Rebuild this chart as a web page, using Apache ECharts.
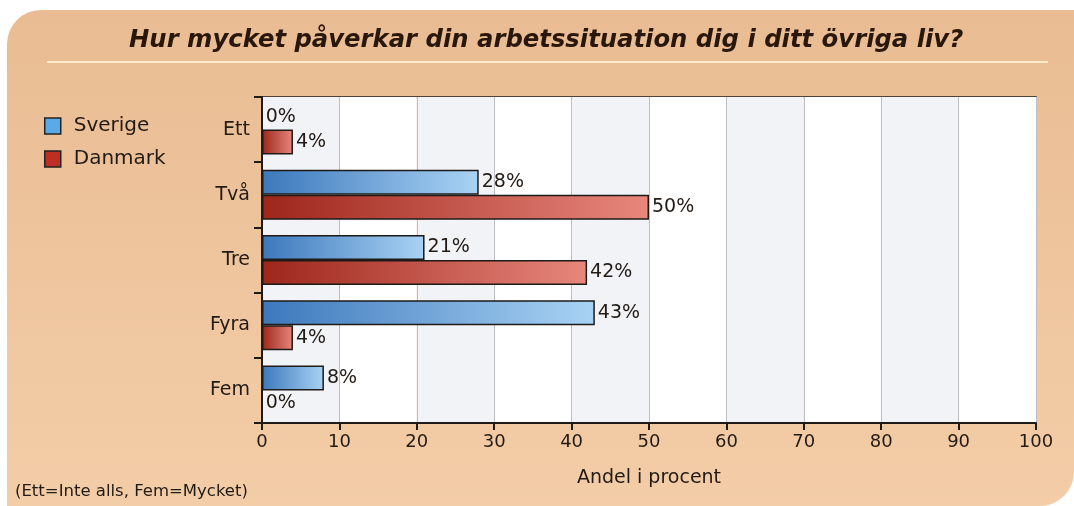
<!DOCTYPE html>
<html>
<head>
<meta charset="utf-8">
<script src="https://cdn.jsdelivr.net/npm/echarts@6/dist/echarts.min.js"></script>
<style>
html, body { margin: 0; padding: 0; background: #fff; }
#chart { width: 1074px; height: 506px; }
</style>
</head>
<body>
<div id="chart"></div>
<script>
var categories = ['Ett', 'Två', 'Tre', 'Fyra', 'Fem']
var sverige = [0, 28, 21, 43, 8]
var danmark = [4, 50, 42, 4, 0]
var xTicks = { min: 0, max: 100, step: 10 }

var font = '"DejaVu Sans", Verdana, sans-serif'
var ink = '#221a14'

function grad(a, b) {
    return new echarts.graphic.LinearGradient(0, 0, 1, 0, [
        { offset: 0, color: a },
        { offset: 1, color: b }
    ])
}

var labelStyle = {
    show: true,
    position: 'right',
    distance: 3,
    formatter: '{c}%',
    fontFamily: font,
    fontSize: 19,
    color: ink
}

var option = {
    animation: false,
    textStyle: { fontFamily: font },
    graphic: [
        {
            type: 'rect',
            z: -10,
            shape: { x: 7, y: 10, width: 1067, height: 496, r: [34, 0, 34, 0] },
            style: {
                fill: new echarts.graphic.LinearGradient(0, 0, 0, 1, [
                    { offset: 0, color: '#E9BC93' },
                    { offset: 1, color: '#F3CDA7' }
                ])
            }
        },
        {
            type: 'line',
            z: -5,
            shape: { x1: 47, y1: 62, x2: 1048, y2: 62 },
            style: { stroke: '#FBEACB', lineWidth: 2 }
        },
        {
            type: 'text',
            left: 15,
            top: 483,
            style: {
                text: '(Ett=Inte alls, Fem=Mycket)',
                font: '16.5px ' + font,
                fill: ink
            }
        }
    ],
    title: {
        text: 'Hur mycket påverkar din arbetssituation dig i ditt övriga liv?',
        left: 124,
        top: 24,
        textStyle: {
            fontFamily: font,
            fontSize: 24.3,
            fontStyle: 'italic',
            fontWeight: 'bold',
            color: '#2a170c'
        }
    },
    legend: {
        orient: 'vertical',
        left: 39,
        top: 111,
        itemWidth: 16,
        itemHeight: 16,
        itemGap: 13,
        icon: 'rect',
        textStyle: { fontFamily: font, fontSize: 20, color: ink, padding: [0, 0, 0, 8] },
        data: [
            { name: 'Sverige', itemStyle: { color: '#5BAAE8', borderColor: '#222', borderWidth: 1.5 } },
            { name: 'Danmark', itemStyle: { color: '#BF2E24', borderColor: '#222', borderWidth: 1.5 } }
        ]
    },
    grid: {
        left: 262,
        right: 38,
        top: 97,
        bottom: 83,
        show: true,
        borderColor: '#1e1a18',
        borderWidth: 1.5
    },
    xAxis: {
        type: 'value',
        min: xTicks.min,
        max: xTicks.max,
        interval: xTicks.step,
        name: 'Andel i procent',
        nameLocation: 'middle',
        nameGap: 46,
        nameTextStyle: { fontFamily: font, fontSize: 19, color: ink },
        axisLine: { show: true, lineStyle: { color: '#1e1a18', width: 2 } },
        axisTick: { show: true, length: 7, lineStyle: { color: '#1e1a18', width: 2 } },
        axisLabel: { fontFamily: font, fontSize: 18, color: ink, margin: 10 },
        splitLine: { show: true, lineStyle: { color: '#bdbdc2', width: 1 } },
        splitArea: { show: true, areaStyle: { color: ['#F2F3F6', '#FFFFFF'] } }
    },
    yAxis: {
        type: 'category',
        data: categories,
        inverse: true,
        axisLine: { show: true, lineStyle: { color: '#1e1a18', width: 2 } },
        axisTick: { show: true, length: 8, lineStyle: { color: '#1e1a18', width: 2 } },
        axisLabel: { fontFamily: font, fontSize: 19, color: ink, margin: 12 },
        splitLine: { show: false }
    },
    series: [
        {
            name: 'Sverige',
            type: 'bar',
            data: sverige,
            barWidth: 25,
            barGap: '0%',
            itemStyle: { color: grad('#3C78BC', '#A9D3F4'), borderColor: '#1e1a18', borderWidth: 1.5 },
            label: labelStyle
        },
        {
            name: 'Danmark',
            type: 'bar',
            data: danmark,
            barWidth: 25,
            barGap: '0%',
            itemStyle: { color: grad('#9E261B', '#E8877D'), borderColor: '#1e1a18', borderWidth: 1.5 },
            label: labelStyle
        }
    ]
}

echarts.init(document.getElementById('chart')).setOption(option)
</script>
</body>
</html>
